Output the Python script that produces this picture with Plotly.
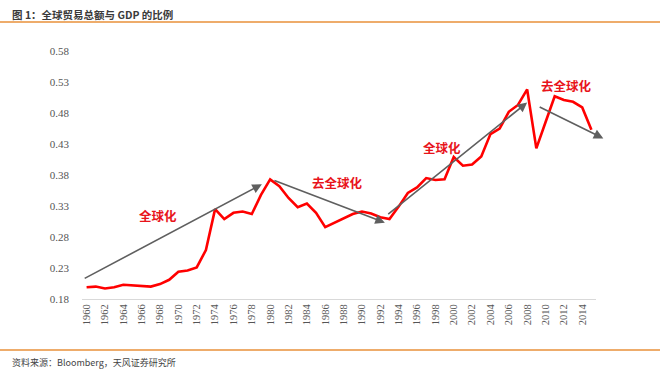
import plotly.graph_objects as go

years = list(range(1960, 2016))
ratio = [0.199, 0.200, 0.197, 0.199, 0.203, 0.202, 0.202, 0.200, 0.204, 0.211,
         0.224, 0.226, 0.231, 0.259, 0.325, 0.309, 0.319, 0.321, 0.317, 0.348,
         0.373, 0.362, 0.343, 0.328, 0.334, 0.319, 0.296, 0.303, 0.309, 0.317,
         0.321, 0.318, 0.312, 0.309, 0.329, 0.351, 0.360, 0.375, 0.372, 0.373,
         0.409, 0.395, 0.397, 0.410, 0.446, 0.455, 0.482, 0.493, 0.518, 0.423,
         0.465, 0.507, 0.501, 0.498, 0.489, 0.453]

tick_years = list(range(1960, 2015, 2))
tick_labels = [str(y) for y in tick_years]
y_ticks = [0.18, 0.23, 0.28, 0.33, 0.38, 0.43, 0.48, 0.53, 0.58]
y_tick_labels = ["0.18", "0.23", "0.28", "0.33", "0.38", "0.43", "0.48", "0.53", "0.58"]

# trend arrows (start year, start value, end year, end value)
arrow_x0 = [1959.63, 1980.3, 1992.7, 2009.2]
arrow_y0 = [0.212, 0.372, 0.315, 0.491]
arrow_x1 = [1979.1, 1992.5, 2008.0, 2016.3]
arrow_y1 = [0.365, 0.303, 0.497, 0.439]

labels_text = ["全球化", "去全球化", "全球化", "去全球化"]
labels_x = [1967.8, 1987.3, 1998.7, 2012.3]
labels_y = [0.314, 0.368, 0.425, 0.524]

fig = go.Figure()
fig.add_trace(go.Scatter(x=years, y=ratio, mode="lines",
                         line=dict(color="#FF0000", width=2.6), showlegend=False,
                         hoverinfo="skip"))

annotations = []
for x0, y0, x1, y1 in zip(arrow_x0, arrow_y0, arrow_x1, arrow_y1):
    annotations.append(dict(x=x1, y=y1, ax=x0, ay=y0, xref="x", yref="y",
                            axref="x", ayref="y", text="", showarrow=True,
                            arrowhead=2, arrowsize=1.2, arrowwidth=1.6,
                            arrowcolor="#5f5f5f"))
for t, x, y in zip(labels_text, labels_x, labels_y):
    annotations.append(dict(x=x, y=y, xref="x", yref="y", text="<b>" + t + "</b>",
                            showarrow=False,
                            font=dict(family="Noto Sans CJK SC", size=12.5, color="#E8141B")))

annotations.append(dict(x=-72 / 513.6, y=(299 - 14) / 248, xref="paper", yref="paper",
                        xanchor="left", yanchor="middle", showarrow=False,
                        text="<b>图 1：全球贸易总额与 GDP 的比例</b>",
                        font=dict(family="Noto Sans CJK SC", size=10.5, color="#3a3a3a")))
annotations.append(dict(x=-72 / 513.6, y=(299 - 362) / 248, xref="paper", yref="paper",
                        xanchor="left", yanchor="middle", showarrow=False,
                        text="资料来源：Bloomberg，天风证券研究所",
                        font=dict(family="Noto Sans CJK SC", size=9, color="#444444")))

shapes = [
    dict(type="line", xref="paper", yref="paper", x0=-82 / 513.6, x1=578 / 513.6,
         y0=(299 - 22) / 248, y1=(299 - 22) / 248, line=dict(color="#E8913A", width=1.5)),
    dict(type="line", xref="paper", yref="paper", x0=-82 / 513.6, x1=578 / 513.6,
         y0=(299 - 350) / 248, y1=(299 - 350) / 248, line=dict(color="#E8913A", width=1.5)),
]

fig.update_layout(
    width=660, height=372,
    margin=dict(l=82, r=64, t=51, b=73),
    paper_bgcolor="white", plot_bgcolor="white",
    annotations=annotations, shapes=shapes,
    xaxis=dict(range=[1959.5, 2015.5], tickmode="array", tickvals=tick_years,
               ticktext=tick_labels, tickangle=-90, showgrid=False, zeroline=False,
               showline=True, linecolor="#d9d9d9", linewidth=1, ticks="",
               tickfont=dict(family="Liberation Serif", size=10.5, color="#555555")),
    yaxis=dict(range=[0.18, 0.58], tickmode="array", tickvals=y_ticks,
               ticktext=y_tick_labels, showgrid=False, zeroline=False, showline=False,
               ticks="", ticklabelstandoff=12,
               tickfont=dict(family="Liberation Serif", size=11, color="#555555")),
)

fig.write_html("out.html", config={"displayModeBar": False},
               post_script="document.body.style.margin='0px';")
